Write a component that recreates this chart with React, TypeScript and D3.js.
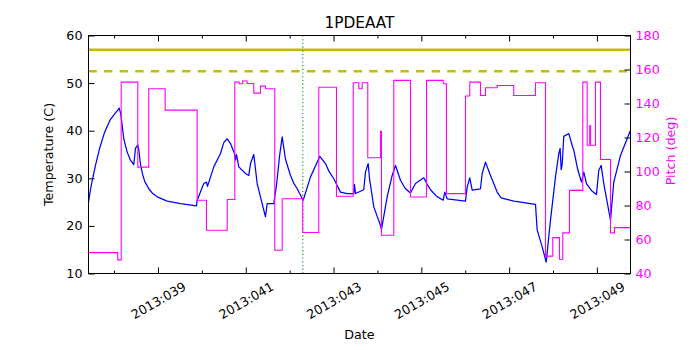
import { useRef, useEffect } from 'react';
import * as d3 from 'd3';

// x values are fractional day-of-year 2013
const xDomain = [37.417, 49.766];
const majorDays = [39, 41, 43, 45, 47, 49];
const minorDays = [38, 40, 42, 44, 46, 48];
const tempTicks = [10, 20, 30, 40, 50, 60];
const pitchTicks = [40, 60, 80, 100, 120, 140, 160, 180];

// temperature (C) vs day
const tempSeries: [number, number][] = [
  [37.417, 25.0], [37.462, 27.6], [37.508, 29.8], [37.576, 32.7], [37.667, 36.2],
  [37.781, 39.6], [37.918, 42.4], [38.055, 44.0], [38.084, 44.3], [38.116, 44.75],
  [38.152, 43.6], [38.221, 38.3],
  [38.298, 35.5], [38.373, 33.8], [38.449, 32.9], [38.487, 36.3], [38.540, 37.0],
  [38.563, 36.0], [38.601, 33.0], [38.650, 30.8], [38.700, 29.3], [38.790, 27.8], [38.880, 26.8],
  [38.982, 26.1], [39.210, 25.2], [39.513, 24.7], [39.877, 24.2], [39.893, 25.4], [40.044, 28.9],
  [40.105, 29.2], [40.128, 28.3], [40.271, 32.4], [40.424, 35.2], [40.499, 37.5],
  [40.577, 38.3], [40.652, 37.3], [40.743, 35.2], [40.766, 33.8], [40.789, 35.0],
  [40.841, 32.4], [40.994, 31.0], [41.069, 30.6], [41.108, 33.1], [41.183, 35.0],
  [41.260, 28.9], [41.374, 24.7], [41.449, 21.9], [41.488, 24.7], [41.638, 24.7],
  [41.700, 28.5], [41.768, 34.5], [41.830, 38.7], [41.905, 34.0], [42.019, 30.6],
  [42.092, 29.0], [42.172, 27.8], [42.308, 25.4], [42.475, 30.3], [42.687, 34.6], [42.816, 33.1],
  [42.900, 31.4], [43.006, 29.9], [43.158, 27.1], [43.311, 26.8], [43.461, 26.8], [43.477, 28.7],
  [43.500, 26.8], [43.689, 27.6], [43.728, 31.3], [43.789, 33.1], [43.819, 30.0],
  [43.917, 24.0], [44.070, 20.1], [44.092, 19.2], [44.222, 26.1], [44.336, 30.6],
  [44.411, 32.7], [44.525, 29.6], [44.630, 27.9], [44.753, 26.9], [44.867, 28.9], [45.056, 30.1],
  [45.118, 29.0], [45.209, 27.6], [45.350, 26.2], [45.498, 25.4], [45.535, 27.1], [45.589, 25.7],
  [46.006, 25.2], [46.045, 28.2], [46.104, 30.1], [46.159, 27.5], [46.348, 27.8],
  [46.387, 31.0], [46.462, 33.4], [46.576, 30.6], [46.728, 27.1], [46.818, 25.9], [47.107, 25.2],
  [47.601, 24.5], [47.640, 19.1], [47.754, 15.6], [47.845, 12.4], [47.943, 21.2],
  [48.057, 30.3], [48.132, 35.2], [48.162, 36.3], [48.187, 31.8], [48.210, 33.0],
  [48.246, 38.8], [48.360, 39.4], [48.437, 36.9], [48.474, 35.9], [48.560, 32.0], [48.649, 29.2],
  [48.702, 31.3], [48.763, 28.9], [48.880, 27.4], [48.991, 26.6], [49.043, 31.7], [49.098, 32.7],
  [49.157, 28.9], [49.310, 21.2], [49.385, 29.2], [49.538, 34.8], [49.766, 40.1],
];

// pitch (deg) vs day, held until next point
const pitchSeries: [number, number][] = [
  [37.417, 52.3], [38.084, 48.0], [38.162, 152.6], [38.540, 102.6], [38.790, 148.7],
  [39.164, 136.1], [39.893, 83.1], [40.105, 65.4], [40.577, 83.5], [40.750, 152.6],
  [40.850, 151.6], [40.930, 153.2], [41.030, 151.8], [41.183, 146.1], [41.335, 150.2],
  [41.449, 148.7], [41.661, 53.7], [41.830, 84.0], [42.299, 64.1], [42.664, 149.6],
  [43.067, 85.4], [43.448, 152.2], [43.575, 148.7], [43.653, 152.2], [43.780, 108.1],
  [44.070, 123.6], [44.092, 62.5], [44.373, 153.6], [44.753, 85.0], [45.118, 153.6],
  [45.498, 151.6], [45.573, 87.0], [46.006, 144.4], [46.104, 152.6], [46.348, 144.7],
  [46.462, 149.3], [46.728, 150.6], [47.107, 144.7], [47.601, 152.2], [47.829, 50.2],
  [47.995, 61.1], [48.148, 48.4], [48.223, 63.9], [48.376, 88.9], [48.679, 152.6],
  [48.779, 115.4], [48.838, 127.1], [48.856, 115.4], [48.968, 152.6], [49.082, 107.1],
  [49.310, 63.9], [49.401, 67.0], [49.766, 67.0],
];

const limitSolid = 57;
const limitDashed = 52.5;
const markerDay = 42.299;

export default function App() {
  const ref = useRef<SVGSVGElement>(null);

  useEffect(() => {
    const w = 700, h = 350;
    const L = 88.5, R = 630.5, T = 35.5, B = 273.5;
    const font = 'DejaVu Sans, sans-serif';
    const fs = 12.7;

    const svg = d3.select(ref.current);
    svg.selectAll('*').remove();
    svg.attr('width', w).attr('height', h);

    const x = d3.scaleLinear().domain(xDomain).range([L, R]);
    const yT = d3.scaleLinear().domain([10, 60]).range([B, T]);
    const yP = d3.scaleLinear().domain([40, 180]).range([B, T]);

    svg.append('rect').attr('width', w).attr('height', h).attr('fill', 'white');

    svg.append('defs').append('clipPath').attr('id', 'plotclip')
      .append('rect').attr('x', L).attr('y', T).attr('width', R - L).attr('height', B - T);

    const plot = svg.append('g').attr('clip-path', 'url(#plotclip)');

    // temperature
    plot.append('path')
      .datum(tempSeries)
      .attr('fill', 'none')
      .attr('stroke', '#0000ff')
      .attr('stroke-width', 1.25)
      .attr('stroke-linejoin', 'round')
      .attr('d', d3.line<[number, number]>().x(d => x(d[0])).y(d => yT(d[1])));

    // limit lines
    plot.append('line')
      .attr('x1', L).attr('x2', R)
      .attr('y1', yT(limitSolid)).attr('y2', yT(limitSolid))
      .attr('stroke', '#bfbf00').attr('stroke-width', 2.6);
    plot.append('line')
      .attr('x1', L).attr('x2', R)
      .attr('y1', yT(limitDashed)).attr('y2', yT(limitDashed))
      .attr('stroke', '#bfbf00').attr('stroke-width', 2.6)
      .attr('stroke-dasharray', '8.3,7.3');

    // marker
    plot.append('line')
      .attr('x1', x(markerDay)).attr('x2', x(markerDay))
      .attr('y1', T).attr('y2', B)
      .attr('stroke', '#008000').attr('stroke-width', 1.1)
      .attr('stroke-dasharray', '1.1,2.6');

    // pitch (twin axis)
    plot.append('path')
      .datum(pitchSeries)
      .attr('fill', 'none')
      .attr('stroke', '#ff00ff')
      .attr('stroke-width', 1.1)
      .attr('d', d3.line<[number, number]>().x(d => x(d[0])).y(d => yP(d[1])).curve(d3.curveStepAfter));

    const style = (g: any) => {
      g.attr('font-family', font).attr('font-size', fs).attr('color', 'black');
      g.select('.domain').remove();
    };

    const fmt = (d: any) => `2013:${String(d).padStart(3, '0')}`;

    // bottom
    const bx = svg.append('g')
      .attr('transform', `translate(0,${B})`)
      .call(d3.axisBottom(x).tickValues(majorDays).tickSize(-6).tickFormat(fmt))
      .call(style);
    bx.selectAll('text')
      .attr('y', 0).attr('dy', null)
      .attr('fill', 'black')
      .attr('text-anchor', 'middle')
      .attr('dominant-baseline', 'central')
      .attr('transform', 'translate(0,27) rotate(-30)');
    svg.append('g')
      .attr('transform', `translate(0,${B})`)
      .call(d3.axisBottom(x).tickValues(minorDays).tickSize(-3).tickFormat(() => ''))
      .call(style);

    // top
    svg.append('g')
      .attr('transform', `translate(0,${T})`)
      .call(d3.axisTop(x).tickValues(majorDays).tickSize(-6).tickFormat(() => ''))
      .call(style);
    svg.append('g')
      .attr('transform', `translate(0,${T})`)
      .call(d3.axisTop(x).tickValues(minorDays).tickSize(-3).tickFormat(() => ''))
      .call(style);

    // left
    svg.append('g')
      .attr('transform', `translate(${L},0)`)
      .call(d3.axisLeft(yT).tickValues(tempTicks).tickSize(-6).tickPadding(6))
      .call(style)
      .selectAll('text').attr('fill', 'black');

    // right
    svg.append('g')
      .attr('transform', `translate(${R},0)`)
      .call(d3.axisRight(yP).tickValues(pitchTicks).tickSize(-6).tickPadding(5))
      .call(style)
      .selectAll('text').attr('fill', '#ff00ff');

    // frame
    svg.append('rect')
      .attr('x', L).attr('y', T).attr('width', R - L).attr('height', B - T)
      .attr('fill', 'none').attr('stroke', 'black').attr('stroke-width', 1);

    // labels
    svg.append('text')
      .attr('x', (L + R) / 2).attr('y', 28.3)
      .attr('text-anchor', 'middle')
      .attr('font-family', font).attr('font-size', 15.3)
      .text('1PDEAAT');

    svg.append('text')
      .attr('x', (L + R) / 2).attr('y', 338.5)
      .attr('text-anchor', 'middle')
      .attr('font-family', font).attr('font-size', fs)
      .text('Date');

    svg.append('text')
      .attr('transform', `translate(52.5,${(T + B) / 2}) rotate(-90)`)
      .attr('text-anchor', 'middle')
      .attr('font-family', font).attr('font-size', fs)
      .text('Temperature (C)');

    svg.append('text')
      .attr('transform', `translate(674.5,151) rotate(-90)`)
      .attr('text-anchor', 'middle')
      .attr('fill', '#ff00ff')
      .attr('font-family', font).attr('font-size', fs)
      .text('Pitch (deg)');
  }, []);

  return <svg ref={ref} style={{ position: 'absolute', left: 0, top: 0 }}></svg>;
}
